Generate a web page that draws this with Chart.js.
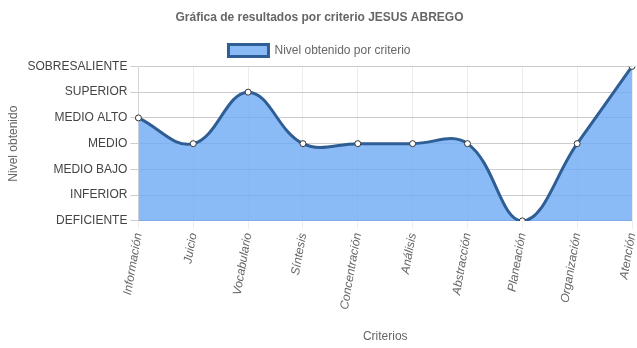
<!DOCTYPE html>
<html>
<head>
<meta charset="utf-8">
<script src="https://cdn.jsdelivr.net/npm/chart.js@4/dist/chart.umd.min.js"></script>
<style>
  html, body { margin: 0; padding: 0; background: #fff; }
  #wrap { width: 637px; height: 348px; }
</style>
</head>
<body>
<div id="wrap"><canvas id="resultsChart"></canvas></div>
<script>
// Criteria and level obtained (index into levels)
const criterios = ['Información', 'Juicio', 'Vocabulario', 'Síntesis', 'Concentración',
    'Análisis', 'Abstracción', 'Planeación', 'Organización', 'Atención'];
const niveles = ['DEFICIENTE', 'INFERIOR', 'MEDIO BAJO', 'MEDIO', 'MEDIO ALTO', 'SUPERIOR', 'SOBRESALIENTE'];
const valores = [4, 3, 5, 3, 3, 3, 3, 0, 3, 6];

Chart.defaults.font.family = '"Liberation Sans", Arial, sans-serif';
Chart.defaults.font.size = 12;
Chart.defaults.color = '#666';

new Chart(document.getElementById('resultsChart'), {
    type: 'line',
    data: {
        labels: criterios,
        datasets: [{
            label: 'Nivel obtenido por criterio',
            data: valores,
            fill: true,
            backgroundColor: 'rgba(110, 170, 245, 0.8)',
            borderColor: '#2e5e93',
            borderWidth: 3,
            tension: 0.4,
            pointRadius: 3,
            pointBackgroundColor: '#fff',
            pointBorderColor: '#333',
            pointBorderWidth: 1
        }]
    },
    options: {
        responsive: true,
        maintainAspectRatio: false,
        animation: false,
        layout: { padding: { left: 2, right: 0, top: 0 } },
        plugins: {
            title: {
                display: true,
                text: 'Gráfica de resultados por criterio JESUS ABREGO',
                font: { size: 12, weight: 'bold' },
                padding: { top: 10, bottom: 10 }
            },
            legend: {
                labels: { boxWidth: 40, boxHeight: 12, font: { size: 12 } }
            },
            tooltip: { enabled: false }
        },
        scales: {
            x: {
                title: { display: true, text: 'Criterios', padding: { top: 16 } },
                ticks: {
                    maxRotation: 80, minRotation: 80,
                    font: { style: 'italic', size: 12 }
                },
                grid: { color: 'rgba(0,0,0,0.07)', tickLength: 8 },
                // let the last rotated label hang past the plot edge like the original
                afterFit: s => { s.paddingRight = 4; }
            },
            y: {
                min: 0,
                max: 6,
                title: { display: true, text: 'Nivel obtenido' },
                ticks: {
                    stepSize: 1,
                    color: '#444',
                    font: { size: 12 },
                    callback: v => niveles[v]
                },
                grid: { color: 'rgba(0,0,0,0.2)', tickLength: 8 }
            }
        }
    }
});
</script>
</body>
</html>
